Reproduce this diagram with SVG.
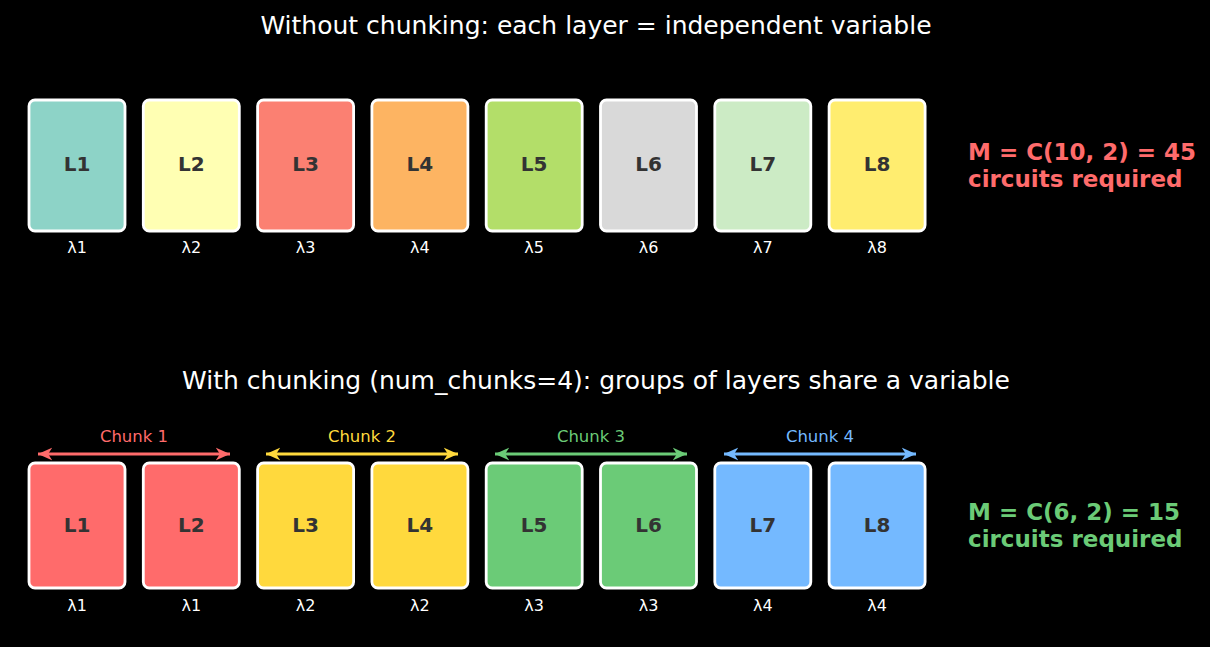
<svg xmlns="http://www.w3.org/2000/svg" width="1210" height="647" viewBox="0 0 1210 647">
<style>
text{font-family:"DejaVu Sans",sans-serif}
.title{font-size:25px;fill:#fff;text-anchor:middle}
.box{stroke:#fff;stroke-width:2.8}
.lbl{font-size:20px;font-weight:bold;fill:#333;text-anchor:middle}
.lam{font-size:16px;fill:#fff;text-anchor:middle}
.chunk{font-size:16.5px;text-anchor:middle}
.res{font-size:23px;font-weight:bold}
.arr{stroke-width:3;fill:none}
</style>
<defs>
<marker id="hR" viewBox="0 0 10 10" refX="10" refY="5" markerWidth="4.8" markerHeight="4.8" orient="auto-start-reverse" markerUnits="strokeWidth"><path d="M0,0.5 L10,5 L0,9.5 L3,5 Z" fill="#ff6b6b"/></marker>
<marker id="hY" viewBox="0 0 10 10" refX="10" refY="5" markerWidth="4.8" markerHeight="4.8" orient="auto-start-reverse" markerUnits="strokeWidth"><path d="M0,0.5 L10,5 L0,9.5 L3,5 Z" fill="#ffd93d"/></marker>
<marker id="hG" viewBox="0 0 10 10" refX="10" refY="5" markerWidth="4.8" markerHeight="4.8" orient="auto-start-reverse" markerUnits="strokeWidth"><path d="M0,0.5 L10,5 L0,9.5 L3,5 Z" fill="#6bcb77"/></marker>
<marker id="hB" viewBox="0 0 10 10" refX="10" refY="5" markerWidth="4.8" markerHeight="4.8" orient="auto-start-reverse" markerUnits="strokeWidth"><path d="M0,0.5 L10,5 L0,9.5 L3,5 Z" fill="#74b9ff"/></marker>
</defs>
<rect width="1210" height="647" fill="#000"/>
<text class="title" x="596" y="34">Without chunking: each layer = independent variable</text>
<text class="title" x="596" y="389">With chunking (num_chunks=4): groups of layers share a variable</text>

<g id="top-L1"><rect class="box" x="29" y="100" width="96" height="131" rx="6" fill="#8dd3c7"/><text class="lbl" x="77" y="171">L1</text><text class="lam" x="77" y="253">λ1</text></g>
<g id="top-L2"><rect class="box" x="143.3" y="100" width="96" height="131" rx="6" fill="#ffffb3"/><text class="lbl" x="191.3" y="171">L2</text><text class="lam" x="191.3" y="253">λ2</text></g>
<g id="top-L3"><rect class="box" x="257.6" y="100" width="96" height="131" rx="6" fill="#fb8072"/><text class="lbl" x="305.6" y="171">L3</text><text class="lam" x="305.6" y="253">λ3</text></g>
<g id="top-L4"><rect class="box" x="371.9" y="100" width="96" height="131" rx="6" fill="#fdb462"/><text class="lbl" x="419.9" y="171">L4</text><text class="lam" x="419.9" y="253">λ4</text></g>
<g id="top-L5"><rect class="box" x="486.2" y="100" width="96" height="131" rx="6" fill="#b3de69"/><text class="lbl" x="534.2" y="171">L5</text><text class="lam" x="534.2" y="253">λ5</text></g>
<g id="top-L6"><rect class="box" x="600.5" y="100" width="96" height="131" rx="6" fill="#d9d9d9"/><text class="lbl" x="648.5" y="171">L6</text><text class="lam" x="648.5" y="253">λ6</text></g>
<g id="top-L7"><rect class="box" x="714.8" y="100" width="96" height="131" rx="6" fill="#ccebc5"/><text class="lbl" x="762.8" y="171">L7</text><text class="lam" x="762.8" y="253">λ7</text></g>
<g id="top-L8"><rect class="box" x="829.1" y="100" width="96" height="131" rx="6" fill="#ffed6f"/><text class="lbl" x="877.1" y="171">L8</text><text class="lam" x="877.1" y="253">λ8</text></g>

<g id="top-result"><text class="res" fill="#ff6b6b" x="968" y="160">M = C(10, 2) = 45</text><text class="res" fill="#ff6b6b" x="968" y="187">circuits required</text></g>

<g id="bot-L1"><rect class="box" x="29" y="463" width="96" height="125" rx="6" fill="#ff6b6b"/><text class="lbl" x="77" y="532">L1</text><text class="lam" x="77" y="611">λ1</text></g>
<g id="bot-L2"><rect class="box" x="143.3" y="463" width="96" height="125" rx="6" fill="#ff6b6b"/><text class="lbl" x="191.3" y="532">L2</text><text class="lam" x="191.3" y="611">λ1</text></g>
<g id="bot-L3"><rect class="box" x="257.6" y="463" width="96" height="125" rx="6" fill="#ffd93d"/><text class="lbl" x="305.6" y="532">L3</text><text class="lam" x="305.6" y="611">λ2</text></g>
<g id="bot-L4"><rect class="box" x="371.9" y="463" width="96" height="125" rx="6" fill="#ffd93d"/><text class="lbl" x="419.9" y="532">L4</text><text class="lam" x="419.9" y="611">λ2</text></g>
<g id="bot-L5"><rect class="box" x="486.2" y="463" width="96" height="125" rx="6" fill="#6bcb77"/><text class="lbl" x="534.2" y="532">L5</text><text class="lam" x="534.2" y="611">λ3</text></g>
<g id="bot-L6"><rect class="box" x="600.5" y="463" width="96" height="125" rx="6" fill="#6bcb77"/><text class="lbl" x="648.5" y="532">L6</text><text class="lam" x="648.5" y="611">λ3</text></g>
<g id="bot-L7"><rect class="box" x="714.8" y="463" width="96" height="125" rx="6" fill="#74b9ff"/><text class="lbl" x="762.8" y="532">L7</text><text class="lam" x="762.8" y="611">λ4</text></g>
<g id="bot-L8"><rect class="box" x="829.1" y="463" width="96" height="125" rx="6" fill="#74b9ff"/><text class="lbl" x="877.1" y="532">L8</text><text class="lam" x="877.1" y="611">λ4</text></g>

<g id="connectors">
<line class="arr" stroke="#ff6b6b" x1="38" y1="454" x2="230" y2="454" marker-start="url(#hR)" marker-end="url(#hR)"/>
<line class="arr" stroke="#ffd93d" x1="266" y1="454" x2="458" y2="454" marker-start="url(#hY)" marker-end="url(#hY)"/>
<line class="arr" stroke="#6bcb77" x1="495" y1="454" x2="687" y2="454" marker-start="url(#hG)" marker-end="url(#hG)"/>
<line class="arr" stroke="#74b9ff" x1="724" y1="454" x2="916" y2="454" marker-start="url(#hB)" marker-end="url(#hB)"/>
</g>
<g id="chunk-labels">
<text class="chunk" fill="#ff6b6b" x="134" y="442">Chunk 1</text>
<text class="chunk" fill="#ffd93d" x="362" y="442">Chunk 2</text>
<text class="chunk" fill="#6bcb77" x="591" y="442">Chunk 3</text>
<text class="chunk" fill="#74b9ff" x="820" y="442">Chunk 4</text>
</g>
<g id="bot-result"><text class="res" fill="#6bcb77" x="968" y="520">M = C(6, 2) = 15</text><text class="res" fill="#6bcb77" x="968" y="547">circuits required</text></g>
</svg>
